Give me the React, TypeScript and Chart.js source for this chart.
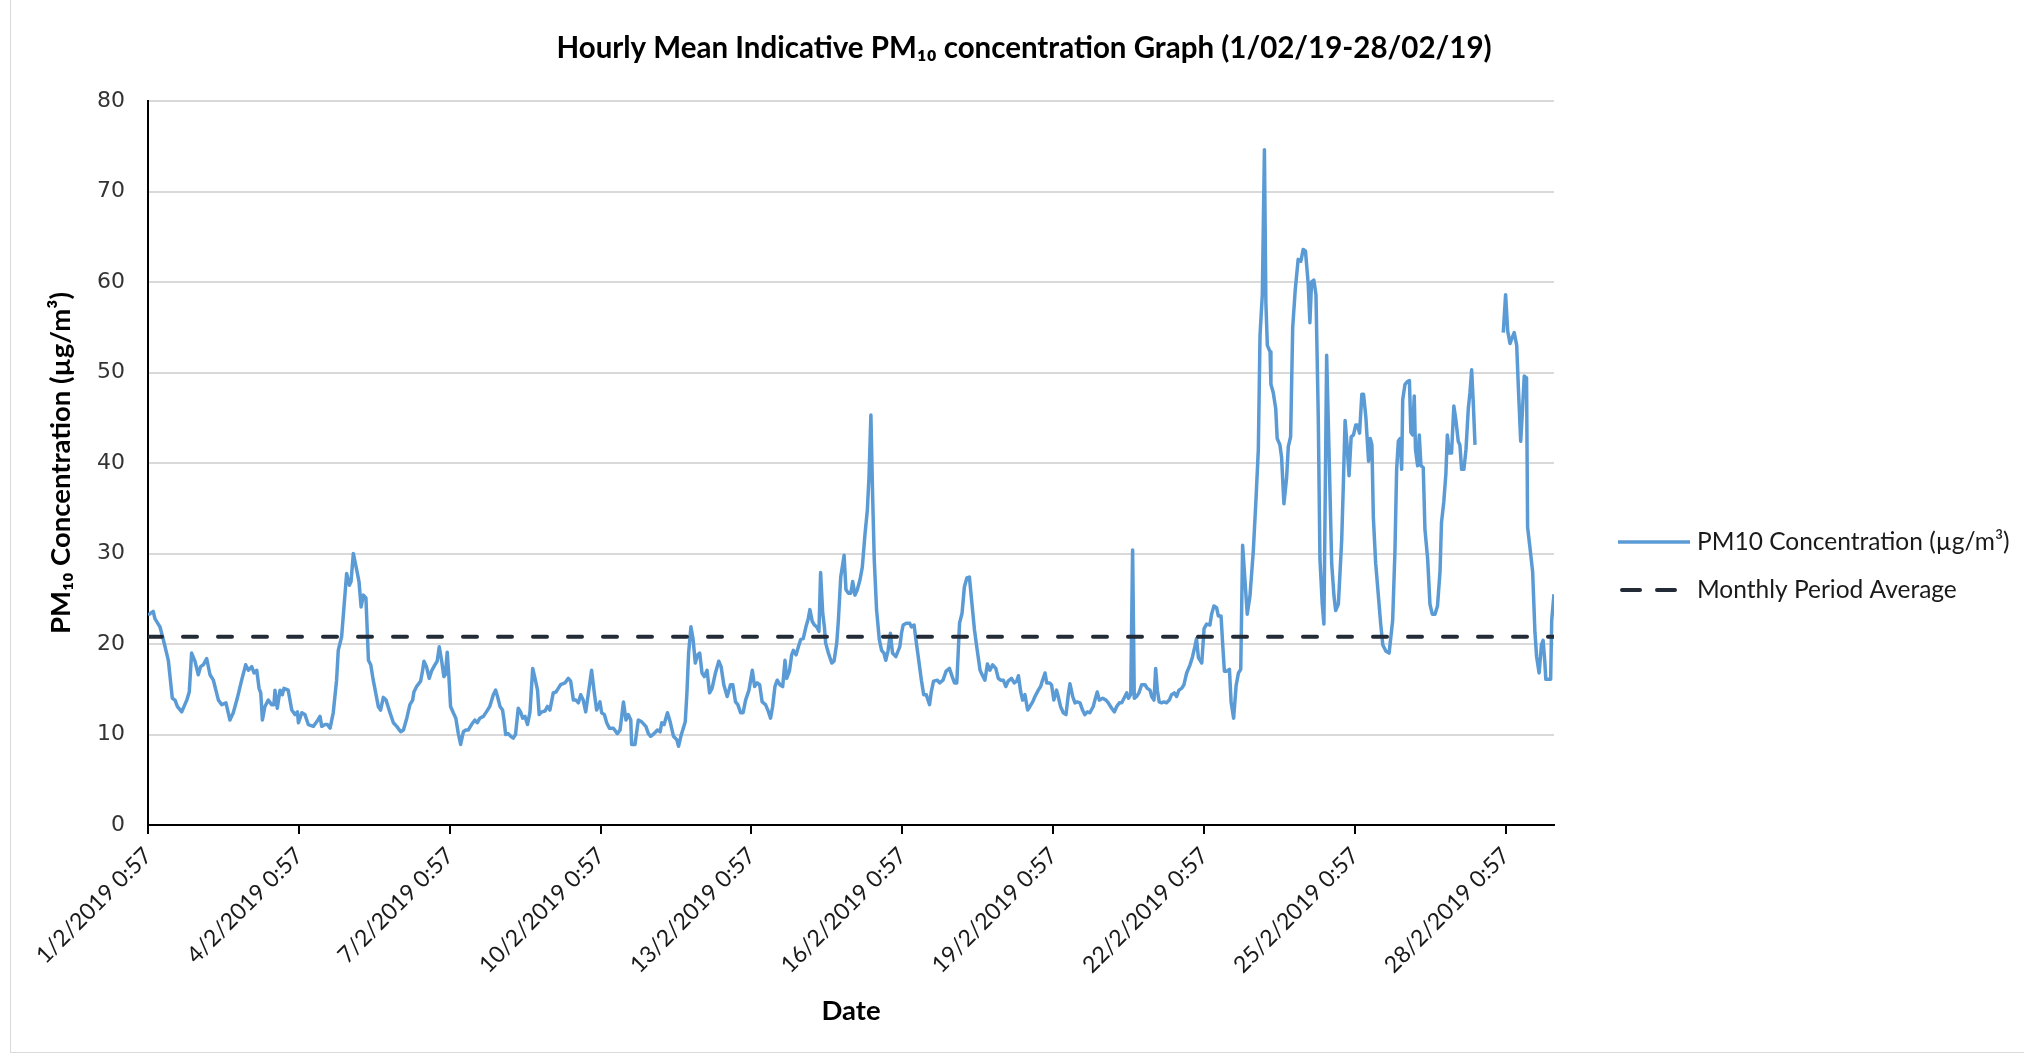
import React, { useEffect, useRef } from "react";
import { Chart, registerables } from "chart.js";

Chart.register(...registerables);

// Hours elapsed since 1/2/2019 0:57 (x) and hourly PM10 readings (µg/m³)
const hours: number[] = [
  0, 2.5, 3.3, 5.7, 7.3, 9.7, 11.6, 12.9, 14.0, 16.1, 18.5, 19.7, 20.8, 22.4, 24.0, 25.1, 26.4, 28.0, 29.6, 31.2,
  33.6, 35.2, 37.2, 39.1, 40.7, 42.6, 44.7, 46.6, 47.9, 49.5, 50.6, 51.9, 53.0, 53.8, 54.6, 55.8, 57.4, 59.0, 60.1, 60.6,
  61.7, 63.0, 64.1, 64.9, 66.9, 68.6, 70.2, 71.3, 71.8, 73.4, 74.9, 76.5, 78.9, 80.5, 82.1, 82.9, 84.5, 85.6, 86.9, 88.4,
  90.0, 90.8, 92.4, 94.8, 96.1, 96.9, 98.0, 99.6, 100.7, 101.7, 102.8, 104.0, 105.2, 106.3, 107.5, 109.9, 111.0, 112.3, 113.6, 115.5,
  117.1, 118.7, 120.6, 121.9, 123.5, 125.0, 126.3, 126.9, 128.2, 130.1, 131.0, 131.7, 132.9, 134.2, 135.3, 136.9, 138.0, 139.0, 140.1, 141.2,
  141.9, 142.8, 143.6, 144.4, 145.7, 146.9, 148.1, 149.2, 150.5, 151.7, 152.9, 154.4, 156.0, 157.1, 158.4, 160.0, 161.5, 163.1, 164.8, 165.9,
  166.8, 168.0, 169.2, 169.9, 170.7, 171.9, 173.1, 174.3, 175.4, 176.7, 177.8, 178.8, 179.9, 181.1, 182.3, 183.6, 184.7, 185.9, 186.7, 187.9,
  189.5, 190.6, 191.8, 193.4, 194.7, 195.8, 196.9, 199.0, 200.6, 201.7, 203.0, 204.2, 205.4, 206.5, 207.7, 208.9, 210.2, 211.7, 213.0, 214.1,
  215.7, 216.5, 217.8, 218.9, 220.2, 222.1, 224.0, 225.3, 226.9, 228.1, 229.2, 230.4, 230.8, 232.4, 234.0, 235.6, 237.6, 238.8, 239.9, 241.5,
  243.1, 244.4, 245.2, 246.3, 247.9, 249.2, 250.8, 252.4, 253.2, 254.3, 256.4, 257.2, 258.0, 259.1, 260.1, 261.2, 262.3, 263.3, 264.4, 265.5,
  266.8, 268.0, 269.2, 270.8, 272.4, 273.5, 274.8, 276.4, 278.0, 279.1, 280.4, 281.5, 282.8, 284.0, 285.2, 286.8, 288.4, 289.5, 290.7, 291.9,
  293.1, 294.7, 295.8, 297.1, 298.1, 299.2, 300.3, 301.6, 302.9, 304.0, 304.8, 306.1, 307.2, 308.0, 309.3, 310.4, 311.5, 312.7, 314.0, 315.1,
  315.9, 317.0, 318.0, 319.1, 320.2, 321.0, 322.0, 322.8, 323.4, 324.7, 326.3, 327.4, 328.7, 329.5, 330.6, 332.2, 333.1, 334.3, 335.4, 336.3,
  337.4, 338.5, 339.8, 340.9, 342.2, 343.3, 344.1, 345.0, 345.8, 346.6, 347.7, 349.0, 350.1, 351.2, 352.1, 353.2, 354.3, 355.3, 356.9, 358.8,
  359.6, 360.4, 361.9, 363.5, 364.3, 365.6, 366.7, 368.0, 369.1, 370.2, 371.4, 373.0, 373.8, 374.9, 376.7, 377.8, 379.4, 380.9, 382.5, 383.8,
  384.9, 386.0, 387.3, 388.5, 389.6, 390.8, 392.0, 393.2, 394.4, 395.5, 397.1, 398.3, 399.4, 400.6, 401.8, 403.1, 404.6, 405.8, 406.9, 408.2,
  409.4, 410.5, 412.1, 413.4, 414.6, 415.4, 416.5, 417.4, 418.5, 419.8, 420.9, 422.2, 423.3, 424.9, 426.0, 426.9, 428.1, 428.9, 430.2, 431.2,
  432.3, 433.6, 434.4, 435.5, 436.8, 438.1, 439.2, 440.0, 441.3, 442.4, 443.5, 444.8, 446.0, 447.1, 448.3, 449.5, 451.1, 451.9, 453.0, 454.0,
  455.6, 457.2, 458.3, 459.9, 461.2, 462.3, 463.6, 464.7, 465.8, 467.1, 467.9, 469.0, 469.9, 470.7, 471.8, 472.9, 474.2, 475.8, 476.9, 478.2,
  479.0, 480.1, 480.9, 481.7, 482.6, 483.7, 484.8, 486.1, 487.4, 488.5, 489.8, 490.9, 492.0, 493.3, 494.4, 495.7, 497.3, 498.5, 499.6, 500.4,
  501.3, 502.9, 504.0, 505.2, 506.8, 507.6, 508.7, 510.0, 510.8, 512.1, 512.9, 513.7, 514.8, 516.1, 516.9, 518.1, 519.3, 520.4, 521.5, 522.4,
  523.5, 524.6, 525.9, 527.5, 528.8, 529.9, 530.7, 531.8, 532.8, 533.5, 534.2, 535.5, 535.9, 537.0, 538.2, 538.9, 540.2, 541.0, 542.1, 543.4,
  544.2, 545.3, 546.3, 547.5, 548.9, 550.2, 551.3, 552.4, 553.7, 554.5, 555.3, 556.4, 557.4, 558.5, 559.3, 560.4, 561.2, 562.5, 563.8, 564.9,
  566.0, 566.8, 568.1, 569.7, 570.5, 571.3, 572.1, 573.2, 574.2, 575.3, 576.4, 577.2, 578.2, 579.3, 580.1, 581.2, 582.5, 583.3, 584.1, 584.8,
  585.9, 587.2, 588.3, 589.3, 590.8, 592.3, 594.0, 595.1, 595.9, 596.7, 597.5, 598.3, 598.8, 599.9, 601.0, 602.0, 602.7, 603.5, 604.3, 604.9,
  605.9, 606.7, 607.5, 608.6, 609.4, 610.7, 611.8, 612.9, 614.2, 615.4, 616.6, 617.3, 618.4, 619.4, 620.1, 621.0, 622.1, 623.2, 624.2, 625.3,
  626.1, 626.9, 628.0, 629.0, 630.1, 630.9, 631.7, 632.5, 633.3, 640.0, 646.8, 647.9, 648.9, 650.0, 651.1, 652.0, 653.2, 654.0, 655.1, 656.0,
  656.8, 657.9, 658.4, 659.5, 660.8, 661.9, 662.7, 663.9, 665.0, 665.8, 666.6, 667.1, 669.4, 669.9, 671.0,
];

const pm10: (number | null)[] = [
  23.2, 23.6, 22.8, 21.9, 20.5, 18.2, 14.0, 13.8, 13.1, 12.5, 13.8, 14.7, 19.0, 18.1, 16.6, 17.5, 17.7, 18.4, 16.6, 16.0,
  13.8, 13.3, 13.5, 11.6, 12.4, 14.0, 16.0, 17.7, 17.1, 17.5, 16.8, 17.1, 15.1, 14.6, 11.6, 13.1, 13.8, 13.3, 13.3, 14.9,
  12.9, 14.9, 14.4, 15.1, 14.9, 12.7, 12.2, 12.5, 11.3, 12.4, 12.2, 11.1, 10.9, 11.4, 12.0, 10.9, 11.1, 11.1, 10.7, 12.4,
  16.0, 19.3, 20.8, 27.8, 26.5, 26.9, 30.0, 28.2, 26.9, 24.1, 25.4, 25.1, 18.2, 17.7, 16.0, 13.1, 12.7, 14.1, 13.8, 12.4,
  11.3, 10.9, 10.3, 10.5, 11.8, 13.3, 13.8, 14.7, 15.3, 15.9, 17.0, 18.1, 17.5, 16.2, 17.0, 17.7, 18.1, 19.7, 18.2, 16.4,
  16.6, 19.1, 16.4, 13.1, 12.4, 11.8, 10.1, 8.9, 10.3, 10.5, 10.5, 11.1, 11.6, 11.3, 11.8, 12.0, 12.5, 13.1, 14.4, 14.9,
  14.2, 13.1, 12.7, 11.6, 10.0, 10.1, 9.8, 9.6, 10.0, 12.9, 12.5, 11.8, 12.0, 11.1, 12.5, 17.3, 16.2, 14.9, 12.2, 12.5,
  12.6, 13.1, 12.7, 14.6, 14.7, 15.1, 15.5, 15.7, 16.2, 15.9, 13.8, 13.8, 13.5, 14.4, 13.8, 12.5, 14.6, 17.1, 14.6, 12.7,
  13.6, 12.4, 12.2, 11.3, 10.7, 10.7, 10.1, 10.5, 13.6, 11.6, 12.2, 11.6, 8.9, 8.9, 11.6, 11.4, 10.9, 10.1, 9.8, 10.1,
  10.5, 10.3, 11.3, 11.1, 12.4, 11.4, 9.8, 9.4, 8.7, 9.8, 11.4, 14.6, 19.0, 21.9, 20.6, 17.9, 18.8, 19.0, 16.8, 16.4,
  17.1, 14.6, 15.1, 16.8, 18.1, 17.5, 15.5, 14.2, 15.5, 15.5, 13.6, 13.3, 12.4, 12.4, 13.8, 14.9, 17.1, 15.3, 15.7, 15.5,
  13.6, 13.3, 12.7, 11.8, 13.1, 15.3, 16.0, 15.5, 15.3, 18.2, 16.2, 17.0, 18.8, 19.3, 18.8, 19.7, 20.5, 20.6, 21.9, 22.8,
  23.8, 22.5, 22.1, 21.9, 21.4, 27.9, 23.4, 21.9, 20.1, 19.0, 17.9, 18.1, 20.1, 22.7, 27.4, 29.8, 26.0, 25.6, 25.6, 26.9,
  25.4, 26.0, 27.1, 28.5, 32.2, 34.8, 38.5, 45.3, 36.6, 29.3, 23.8, 20.5, 19.3, 19.0, 18.2, 19.3, 21.2, 19.0, 18.6, 19.7,
  21.2, 22.1, 22.3, 22.3, 21.9, 22.1, 20.1, 17.9, 16.0, 14.4, 14.4, 13.3, 14.7, 15.9, 16.0, 15.7, 16.0, 17.0, 17.3, 16.4,
  15.7, 15.7, 22.3, 23.4, 26.3, 27.3, 27.4, 24.5, 21.6, 19.7, 17.1, 16.5, 16.0, 17.8, 17.1, 17.7, 17.3, 16.2, 16.0, 16.0,
  15.3, 15.9, 16.2, 15.7, 15.9, 16.5, 14.7, 13.8, 14.4, 12.7, 13.1, 13.6, 14.2, 14.9, 15.3, 16.0, 16.8, 15.7, 15.7, 15.5,
  13.8, 14.9, 14.2, 13.1, 12.4, 12.2, 14.4, 15.6, 14.2, 13.5, 13.6, 13.5, 12.7, 12.2, 12.5, 12.4, 13.1, 13.8, 14.7, 13.8,
  14.0, 13.8, 13.5, 12.9, 12.5, 13.1, 13.5, 13.5, 14.0, 14.6, 14.0, 14.4, 30.4, 14.0, 14.2, 14.6, 15.5, 15.5, 15.1, 14.9,
  14.2, 13.8, 17.3, 14.9, 13.6, 13.5, 13.6, 13.5, 13.8, 14.4, 14.6, 14.2, 14.9, 15.1, 15.5, 16.8, 17.7, 18.6, 19.7, 20.6,
  18.5, 17.9, 21.7, 22.2, 22.1, 23.3, 24.2, 24.0, 23.1, 23.1, 19.9, 17.0, 17.0, 17.2, 13.6, 11.8, 15.4, 16.8, 17.2, 30.9,
  27.1, 23.3, 25.3, 30.3, 36.1, 41.5, 54.1, 58.6, 74.6, 57.7, 53.0, 52.3, 48.7, 47.8, 46.0, 42.7, 42.0, 40.6, 35.5, 38.4,
  41.8, 42.9, 55.0, 59.1, 62.5, 62.3, 63.6, 63.4, 59.8, 55.5, 60.0, 60.2, 58.6, 45.1, 29.4, 24.4, 22.2, 51.9, 39.7, 28.9,
  25.3, 23.7, 24.4, 31.6, 37.9, 44.7, 42.4, 38.6, 42.9, 43.1, 44.2, 44.2, 43.3, 47.6, 47.6, 45.1, 40.2, 42.7, 42.0, 33.9,
  28.9, 25.3, 22.2, 19.9, 19.2, 19.0, 22.6, 30.3, 39.3, 42.4, 42.7, 39.3, 47.0, 48.7, 49.0, 49.1, 43.4, 43.1, 47.4, 41.5,
  39.7, 43.1, 39.7, 39.5, 32.7, 29.4, 24.4, 23.3, 23.3, 24.2, 28.0, 33.4, 35.7, 38.8, 43.1, 41.1, 41.1, 46.3, 44.7, 42.4,
  42.0, 39.3, 39.3, 41.5, 46.0, 47.8, 50.3, 46.5, 42.0, null, 54.4, 58.6, 54.6, 53.2, 53.9, 54.4, 53.0, 48.3, 42.4, 46.0,
  49.6, 49.4, 32.9, 30.7, 28.0, 21.3, 18.6, 16.8, 19.9, 20.4, 18.1, 16.1, 16.1, 22.6, 25.5,
];

const monthlyAverage = 20.8;
const periodHours = [0, 671];

const tickLabels: string[] = [
  "1/2/2019 0:57",
  "4/2/2019 0:57",
  "7/2/2019 0:57",
  "10/2/2019 0:57",
  "13/2/2019 0:57",
  "16/2/2019 0:57",
  "19/2/2019 0:57",
  "22/2/2019 0:57",
  "25/2/2019 0:57",
  "28/2/2019 0:57",
];
const tickStepHours = 72;

const seriesLabels = ["PM10 Concentration (\u00b5g/m\u00b3)", "Monthly Period Average"];
const titleText = "Hourly Mean Indicative PM\u2081\u2080 concentration Graph (1/02/19-28/02/19)";
const yTitle = "PM\u2081\u2080 Concentration (\u00b5g/m\u00b3)";
const xTitle = "Date";

const BLUE = "#5B9BD5";
const DARK = "#232B36";
const TEXT = "#1a1a1a";
const FONT = "Lato, 'Open Sans', sans-serif";

const sideLegend = {
  id: "sideLegend",
  afterDraw(chart: any) {
    const { ctx, chartArea } = chart;
    const mid = (chartArea.top + chartArea.bottom) / 2;
    const x0 = chartArea.right + 64;
    const x1 = chartArea.right + 136;
    const tx = chartArea.right + 143;
    const rows = [
      { y: mid + 79, color: BLUE, width: 3.5, dash: [] as number[], cap: "butt", label: seriesLabels[0], start: x0 },
      { y: mid + 127, color: DARK, width: 4, dash: [18, 17], cap: "round", label: seriesLabels[1], start: x0 + 4 },
    ];
    ctx.save();
    rows.forEach((r) => {
      ctx.beginPath();
      ctx.strokeStyle = r.color;
      ctx.lineWidth = r.width;
      ctx.lineCap = r.cap;
      ctx.setLineDash(r.dash);
      ctx.moveTo(r.start, r.y);
      ctx.lineTo(x1, r.y);
      ctx.stroke();
      ctx.setLineDash([]);
      ctx.fillStyle = TEXT;
      ctx.font = `24.5px ${FONT}`;
      ctx.textAlign = "left";
      ctx.textBaseline = "middle";
      ctx.fillText(r.label, tx, r.y);
    });
    ctx.restore();
  },
};

export default function App() {
  const ref = useRef<HTMLCanvasElement | null>(null);

  useEffect(() => {
    if (!ref.current) return;
    const pmPoints = hours.map((h, i) => ({ x: h, y: pm10[i] }));
    const avgPoints = periodHours.map((h) => ({ x: h, y: monthlyAverage }));

    const chart = new Chart(ref.current, {
      type: "line",
      data: {
        datasets: [
          {
            label: seriesLabels[1],
            data: avgPoints,
            borderColor: DARK,
            borderWidth: 4,
            borderDash: [14, 21],
            borderCapStyle: "round",
            pointRadius: 0,
            order: 0,
          },
          {
            label: seriesLabels[0],
            data: pmPoints as any,
            borderColor: BLUE,
            borderWidth: 3.5,
            borderJoinStyle: "round",
            pointRadius: 0,
            tension: 0,
            spanGaps: false,
            order: 1,
          },
        ],
      },
      options: {
        responsive: false,
        animation: false,
        layout: { padding: { left: 24, right: 0, top: 0, bottom: 0 } },
        plugins: {
          legend: { display: false },
          tooltip: { enabled: false },
          title: {
            display: true,
            text: titleText,
            color: "#000",
            font: { family: FONT, size: 29.5, weight: "bold" },
            padding: { top: 30.3, bottom: 35.3 },
          },
        },
        scales: {
          x: {
            type: "linear",
            min: 0,
            max: 671,
            afterBuildTicks: (scale: any) => {
              scale.ticks = tickLabels.map((_, i) => ({ value: i * tickStepHours }));
            },
            afterFit: (scale: any) => {
              scale.height = 232;
            },
            ticks: {
              autoSkip: false,
              minRotation: 45,
              maxRotation: 45,
              padding: 8,
              color: TEXT,
              font: { family: FONT, size: 23 },
              callback: (v: any) => tickLabels[Math.round(Number(v) / tickStepHours)] ?? "",
            },
            grid: {
              display: true,
              drawOnChartArea: false,
              drawTicks: true,
              tickLength: 9,
              tickWidth: 2,
              tickColor: "#000",
              lineWidth: 2,
              color: "#000",
            },
            border: { display: true, color: "#000", width: 2 },
            title: {
              display: true,
              text: xTitle,
              color: "#000",
              font: { family: FONT, size: 27.5, weight: "bold" },
              padding: { top: 4, bottom: 29.5 },
            },
          },
          y: {
            type: "linear",
            min: 0,
            max: 80,
            afterFit: (scale: any) => {
              scale.width = 124;
            },
            ticks: {
              stepSize: 10,
              padding: 23,
              color: "#333",
              font: { family: "'DejaVu Sans', sans-serif", size: 22 },
            },
            grid: { color: "#D9D9D9", lineWidth: 2, drawTicks: false },
            border: { display: true, color: "#000", width: 2 },
            title: {
              display: true,
              text: yTitle,
              color: "#000",
              font: { family: FONT, size: 27.5, weight: "bold" },
              padding: { top: 20.5, bottom: 0 },
            },
          },
          legendSpace: {
            type: "linear",
            position: "right",
            display: true,
            afterFit: (scale: any) => {
              scale.width = 470;
            },
            ticks: { display: false },
            grid: { display: false, drawTicks: false },
            border: { display: false },
          },
        },
      },
      plugins: [sideLegend],
    });
    return () => chart.destroy();
  }, []);

  return (
    <div>
      <canvas
        ref={ref}
        width={2024}
        height={1057}
        style={{ position: "fixed", left: 0, top: 0, display: "block" }}
      />
      <div
        style={{
          position: "fixed",
          left: 10,
          top: -2,
          width: 2014,
          height: 1055,
          boxSizing: "border-box",
          borderLeft: "1px solid #D9D9D9",
          borderBottom: "1px solid #D9D9D9",
          pointerEvents: "none",
        }}
      />
    </div>
  );
}
